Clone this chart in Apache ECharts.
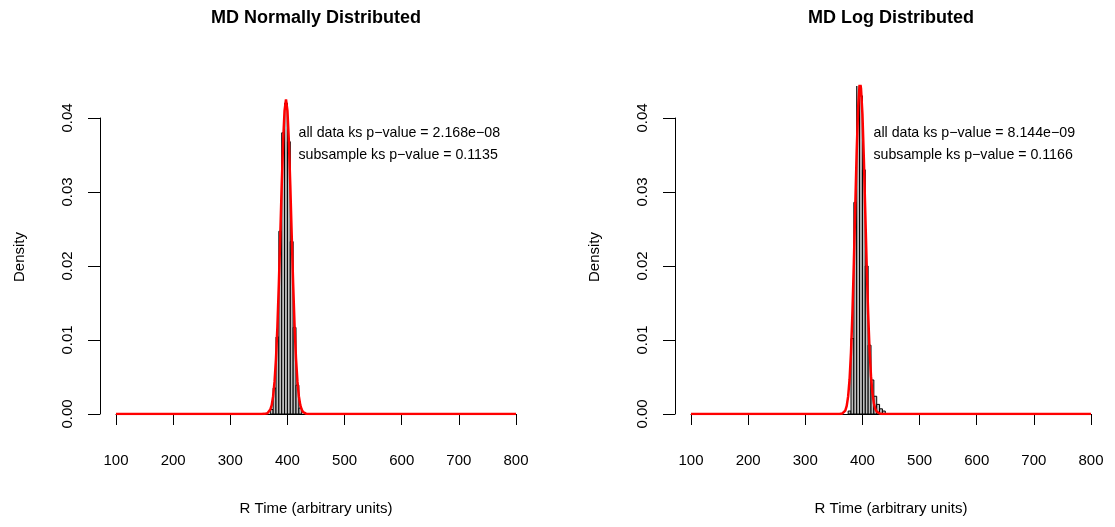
<!DOCTYPE html>
<html>
<head>
<meta charset="utf-8">
<script src="https://cdn.jsdelivr.net/npm/echarts@6/dist/echarts.min.js"></script>
<style>
  html, body { margin: 0; padding: 0; background: #ffffff; }
  #chart { width: 1115px; height: 527px; }
</style>
</head>
<body>
<div id="chart"></div>
<script>
// Histogram bins (width 5) and densities for each panel
const binWidth = 5;
const normBinStart = 370;
const normDensity = [0.0006, 0.0035, 0.0104, 0.0247, 0.0380, 0.0420, 0.0368, 0.0233, 0.0117, 0.0039, 0.0008];
const logBinStart = 375;
const logDensity = [0.0004, 0.0102, 0.0286, 0.0455, 0.0430, 0.0330, 0.0200, 0.0093, 0.0046, 0.0024, 0.0013, 0.0007, 0.0004];

// Fitted density curves (x, density)
const normCurveX = [100, 355, 360, 362.5, 365, 367.5, 370, 372.5, 375, 377.5, 380, 382.5, 385, 387.5, 390, 392.5, 395, 397.5, 400, 402.5, 405, 407.5, 410, 412.5, 415, 417.5, 420, 422.5, 425, 427.5, 430, 432.5, 435, 440, 800];
const normCurveY = [0, 0, 0.00002, 0.00004, 0.0001, 0.00026, 0.0006, 0.0012, 0.0024, 0.0044, 0.0075, 0.0119, 0.0176, 0.0241, 0.0309, 0.0369, 0.0410, 0.0425, 0.0410, 0.0369, 0.0309, 0.0241, 0.0176, 0.0119, 0.0075, 0.0044, 0.0024, 0.0012, 0.0006, 0.00026, 0.0001, 0.00004, 0.00002, 0, 0];
const logCurveX = [100, 360, 365, 370, 372.5, 375, 377.5, 380, 382.5, 385, 387.5, 390, 392.5, 395, 396, 397.5, 400, 402.5, 405, 407.5, 410, 412.5, 415, 417.5, 420, 422.5, 425, 430, 435, 445, 800];
const logCurveY = [0, 0, 0.00008, 0.00047, 0.0011, 0.00238, 0.00467, 0.00834, 0.01364, 0.02044, 0.02812, 0.03556, 0.0414, 0.04449, 0.04477, 0.0440, 0.04052, 0.03446, 0.02718, 0.01993, 0.01358, 0.00863, 0.00511, 0.00283, 0.00146, 0.0007, 0.00032, 0.00006, 0.00001, 0, 0];

// Axis ticks
const xTickMin = 100, xTickMax = 800, xTickStep = 100;
const yTickMin = 0, yTickMax = 0.04, yTickStep = 0.01;

// Panel text
const titles = ['MD Normally Distributed', 'MD Log Distributed'];
const xLabel = 'R Time (arbitrary units)';
const yLabel = 'Density';
const ksLines = [
  ['all data ks p\u2212value = 2.168e\u221208', 'subsample ks p\u2212value = 0.1135'],
  ['all data ks p\u2212value = 8.144e\u221209', 'subsample ks p\u2212value = 0.1166']
];

const FONT = '"Liberation Sans", Arial, Helvetica, sans-serif';
const W = 1115, H = 527;

// Panel geometry (pixels)
const panels = [
  { xLeft: 116, xRight: 516 },
  { xLeft: 691, xRight: 1091 }
];
const yZeroPx = 414;      // pixel row for density 0
const yTopTickPx = 118;   // pixel row for density 0.04
const plotTopPx = 86;     // top of the plotting region (marks are clipped here)
const pxPerUnit = (yZeroPx - yTopTickPx) / (yTickMax - yTickMin);
const dataYMax = (yZeroPx - plotTopPx) / pxPerUnit;

function bins(start, dens) {
  return dens.map((d, i) => [start + i * binWidth, start + (i + 1) * binWidth, d]);
}
function pairs(xs, ys) { return xs.map((x, i) => [x, ys[i]]); }

const grids = [], xAxes = [], yAxes = [], series = [], graphics = [];

const axisLineStyle = { color: '#000', width: 1 };
const labelStyle = { color: '#000', fontFamily: FONT, fontSize: 15 };

function textEl(id, x, y, text, opts) {
  return Object.assign({
    type: 'text', id: id, x: x, y: y, silent: true,
    style: Object.assign({
      text: text, fill: '#000', fontFamily: FONT, fontSize: 15, fontWeight: 'normal',
      align: 'center', verticalAlign: 'middle'
    }, opts && opts.style)
  }, opts && opts.el);
}

panels.forEach((p, k) => {
  const gData = grids.length;
  grids.push({ left: p.xLeft, width: p.xRight - p.xLeft, top: plotTopPx, height: yZeroPx - plotTopPx, containLabel: false });
  const gAxis = grids.length;
  grids.push({ left: p.xLeft, width: p.xRight - p.xLeft, top: yTopTickPx, height: yZeroPx - yTopTickPx, containLabel: false });

  // data grid: visible x axis, hidden y axis
  xAxes.push({
    gridIndex: gData, type: 'value', min: xTickMin, max: xTickMax, interval: xTickStep,
    position: 'bottom', offset: 15,
    axisLine: { show: true, lineStyle: axisLineStyle },
    axisTick: { show: true, length: 11, inside: false, lineStyle: axisLineStyle },
    axisLabel: Object.assign({ margin: 24, formatter: v => String(v) }, labelStyle),
    splitLine: { show: false }
  });
  yAxes.push({
    gridIndex: gData, type: 'value', min: 0, max: dataYMax, show: false, splitLine: { show: false }
  });

  // axis grid: visible y axis spanning 0 to 0.04
  xAxes.push({ gridIndex: gAxis, type: 'value', min: xTickMin, max: xTickMax, show: false });
  yAxes.push({
    gridIndex: gAxis, type: 'value', min: yTickMin, max: yTickMax, interval: yTickStep,
    position: 'left', offset: 16,
    axisLine: { show: true, lineStyle: axisLineStyle },
    axisTick: { show: true, length: 12, inside: false, lineStyle: axisLineStyle },
    axisLabel: Object.assign({ margin: 25, rotate: 90, formatter: v => v.toFixed(2) }, labelStyle),
    splitLine: { show: false }
  });

  const xi = xAxes.length - 2, yi = yAxes.length - 2;
  const binData = k === 0 ? bins(normBinStart, normDensity) : bins(logBinStart, logDensity);
  series.push({
    type: 'custom', xAxisIndex: xi, yAxisIndex: yi, clip: true, z: 2,
    encode: { x: [0, 1], y: 2 },
    data: binData,
    renderItem: function (params, api) {
      const a = api.coord([api.value(0), api.value(2)]);
      const b = api.coord([api.value(1), 0]);
      return {
        type: 'rect',
        shape: { x: a[0], y: a[1], width: b[0] - a[0], height: b[1] - a[1] },
        style: { fill: '#bebebe', stroke: '#000', lineWidth: 1 }
      };
    }
  });
  series.push({
    type: 'line', xAxisIndex: xi, yAxisIndex: yi, clip: true, z: 3,
    showSymbol: false, smooth: false,
    lineStyle: { color: '#ff0000', width: 2.5 },
    data: k === 0 ? pairs(normCurveX, normCurveY) : pairs(logCurveX, logCurveY)
  });

  const cx = (p.xLeft - 16 + p.xRight + 16) / 2;
  graphics.push(textEl('title' + k, cx, 18, titles[k], { style: { fontWeight: 'bold', fontSize: 18 } }));
  graphics.push(textEl('xname' + k, cx, 509, xLabel));
  graphics.push(textEl('yname' + k, p.xLeft - 96.5, 257, yLabel, { el: { rotation: Math.PI / 2 } }));
  ksLines[k].forEach((line, j) => {
    graphics.push(textEl('ks' + k + '_' + j, p.xLeft + 182.5, 133 + j * 22, line, { style: { align: 'left', fontSize: 14.2 } }));
  });
});

const chart = echarts.init(document.getElementById('chart'), null, { renderer: 'canvas', width: W, height: H });
chart.setOption({
  animation: false,
  backgroundColor: '#ffffff',
  grid: grids,
  xAxis: xAxes,
  yAxis: yAxes,
  series: series,
  graphic: { elements: graphics }
});
</script>
</body>
</html>
